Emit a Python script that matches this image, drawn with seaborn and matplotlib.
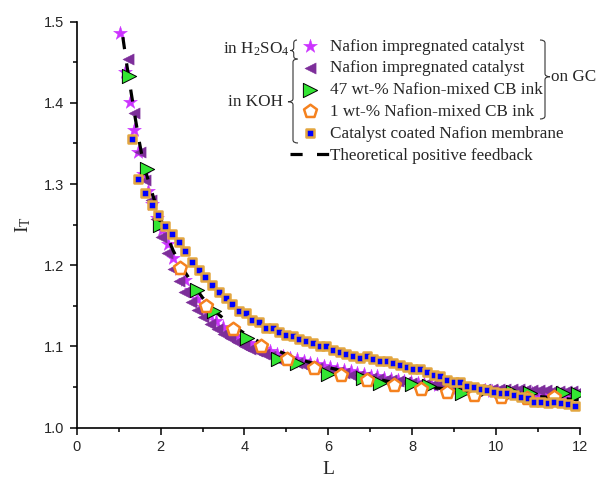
import matplotlib
matplotlib.use("Agg")
import matplotlib.pyplot as plt
import seaborn as sns
from matplotlib.path import Path
from matplotlib.patches import PathPatch

# ---- data ----
L_star = [1.03, 1.15, 1.27, 1.37, 1.47, 1.58, 1.69, 1.80, 1.92, 2.04, 2.17, 2.30,
          2.44, 2.58, 2.72, 2.87, 3.02, 3.17, 3.33, 3.49, 3.65, 3.81, 3.97, 4.13,
          4.29, 4.45, 4.61, 4.77, 4.93, 5.09, 5.25, 5.41, 5.57, 5.73, 5.89, 6.05,
          6.21, 6.37, 6.53, 6.69, 6.85, 7.01, 7.17, 7.33, 7.49, 7.65, 7.81, 7.97,
          8.13, 8.29, 8.45, 8.61, 8.77, 8.93, 9.09, 9.25, 9.41, 9.57, 9.73, 9.89,
          10.05, 10.21, 10.37, 10.53, 10.69, 10.85, 11.01, 11.17, 11.33, 11.49,
          11.65, 11.81]
I_star = [1.486, 1.438, 1.401, 1.367, 1.340, 1.312, 1.292, 1.275, 1.258, 1.243, 1.226, 1.209,
          1.195, 1.182, 1.170, 1.158, 1.148, 1.139, 1.131, 1.124, 1.118, 1.113, 1.108, 1.104,
          1.100, 1.097, 1.094, 1.091, 1.088, 1.086, 1.084, 1.082, 1.080, 1.078, 1.076, 1.074,
          1.072, 1.071, 1.069, 1.067, 1.066, 1.064, 1.063, 1.061, 1.060, 1.059, 1.057, 1.056,
          1.055, 1.054, 1.053, 1.052, 1.051, 1.050, 1.049, 1.048, 1.047, 1.046, 1.046, 1.045,
          1.044, 1.044, 1.043, 1.043, 1.042, 1.042, 1.041, 1.041, 1.040, 1.040,
          1.040, 1.039]

L_purple = [1.22, 1.36, 1.50, 1.63, 1.76, 1.89, 2.02, 2.15, 2.29, 2.43, 2.57, 2.72,
            2.87, 3.02, 3.18, 3.34, 3.50, 3.66, 3.82, 3.98, 4.14, 4.30, 4.46, 4.62,
            4.78, 4.94, 5.10, 5.26, 5.42, 5.58, 5.74, 5.90, 6.06, 6.22, 6.38, 6.54,
            6.70, 6.86, 7.02, 7.18, 7.34, 7.50, 7.66, 7.82, 7.98, 8.14, 8.30, 8.46,
            8.62, 8.78, 8.94, 9.10, 9.26, 9.42, 9.58, 9.74, 9.90, 10.06, 10.22, 10.38,
            10.54, 10.70, 10.86, 11.02, 11.18, 11.34, 11.50, 11.66, 11.82, 11.96]
I_purple = [1.454, 1.387, 1.340, 1.305, 1.280, 1.257, 1.235, 1.215, 1.195, 1.180, 1.167, 1.155,
            1.145, 1.136, 1.128, 1.121, 1.115, 1.110, 1.105, 1.101, 1.097, 1.094, 1.091, 1.088,
            1.085, 1.083, 1.081, 1.079, 1.077, 1.075, 1.073, 1.071, 1.070, 1.068, 1.067, 1.065,
            1.064, 1.062, 1.061, 1.060, 1.059, 1.058, 1.057, 1.056, 1.055, 1.054, 1.053, 1.052,
            1.052, 1.051, 1.050, 1.050, 1.049, 1.049, 1.048, 1.048, 1.048, 1.047, 1.047, 1.047,
            1.047, 1.046, 1.046, 1.046, 1.046, 1.045, 1.045, 1.045, 1.045, 1.044]

L_green = [1.25, 1.67, 1.99, 2.86, 3.28, 4.05, 4.81, 5.25, 6.00, 6.82, 7.23, 7.99,
           8.40, 9.18, 9.60, 10.41, 10.80, 11.60, 11.95]
I_green = [1.433, 1.319, 1.250, 1.169, 1.144, 1.110, 1.085, 1.079, 1.066, 1.061, 1.055, 1.054,
           1.051, 1.043, 1.043, 1.044, 1.043, 1.042, 1.041]

L_pent = [2.46, 3.08, 3.73, 4.39, 5.02, 5.66, 6.29, 6.93, 7.57, 8.20, 8.84, 9.47,
          10.11, 10.74, 11.38]
I_pent = [1.196, 1.150, 1.121, 1.100, 1.084, 1.073, 1.065, 1.058, 1.052, 1.047, 1.044, 1.040,
          1.037, 1.036, 1.038]

L_square = [1.31, 1.47, 1.63, 1.79, 1.95, 2.11, 2.27, 2.43, 2.59, 2.75, 2.91, 3.07,
            3.23, 3.39, 3.55, 3.71, 3.87, 4.03, 4.19, 4.35, 4.51, 4.67, 4.83, 4.99,
            5.15, 5.31, 5.47, 5.63, 5.79, 5.95, 6.11, 6.27, 6.43, 6.59, 6.75, 6.91,
            7.07, 7.23, 7.39, 7.55, 7.71, 7.87, 8.03, 8.19, 8.35, 8.51, 8.67, 8.83,
            8.99, 9.15, 9.31, 9.47, 9.63, 9.79, 9.95, 10.11, 10.27, 10.43, 10.59, 10.75,
            10.91, 11.07, 11.23, 11.39, 11.55, 11.71, 11.87]
I_square = [1.355, 1.306, 1.289, 1.274, 1.262, 1.248, 1.238, 1.228, 1.218, 1.204, 1.194, 1.185,
            1.176, 1.167, 1.159, 1.152, 1.144, 1.141, 1.133, 1.130, 1.123, 1.122, 1.118, 1.114,
            1.113, 1.109, 1.107, 1.104, 1.100, 1.100, 1.096, 1.093, 1.091, 1.088, 1.086, 1.088,
            1.085, 1.082, 1.082, 1.080, 1.077, 1.075, 1.072, 1.072, 1.068, 1.065, 1.063, 1.059,
            1.056, 1.056, 1.051, 1.050, 1.048, 1.046, 1.044, 1.042, 1.042, 1.040, 1.038, 1.036,
            1.032, 1.032, 1.030, 1.032, 1.030, 1.029, 1.026]

L_theory = [1.10, 1.20, 1.30, 1.40, 1.50, 1.60, 1.75, 1.90, 2.10, 2.30, 2.50, 2.75, 3.00,
            3.30, 3.60, 4.00, 4.50, 5.00, 5.50, 6.00, 6.70, 7.40, 8.50, 9.80, 10.60, 11.30, 12.00]
I_theory = [1.481, 1.445, 1.412, 1.380, 1.350, 1.323, 1.297, 1.272, 1.243, 1.218, 1.198, 1.178,
            1.160, 1.143, 1.130, 1.116, 1.101, 1.090, 1.081, 1.074, 1.065, 1.057, 1.049, 1.043,
            1.040, 1.037, 1.034]

labels = ["Nafion impregnated catalyst", "Nafion impregnated catalyst",
          "47 wt-% Nafion-mixed CB ink", "1 wt-% Nafion-mixed CB ink",
          "Catalyst coated Nafion membrane", "Theoretical positive feedback"]

W, H = 605, 486

sns.set_theme(style="ticks")
plt.rcParams["font.family"] = ["Liberation Serif", "DejaVu Serif"]
plt.rcParams["mathtext.fontset"] = "custom"
plt.rcParams["mathtext.rm"] = "Liberation Serif"
plt.rcParams["mathtext.it"] = "Liberation Serif"

fig = plt.figure(figsize=(W / 100, H / 100), dpi=100)
ax = fig.add_axes([76.7 / W, 1 - 427.5 / H, (580 - 76.7) / W, (427.5 - 21.7) / H])

sns.scatterplot(x=L_star, y=I_star, marker="*", s=110, color="#CC33FF",
                edgecolor="#CC33FF", linewidth=0.3, label=labels[0], ax=ax, zorder=2)
sns.scatterplot(x=L_purple, y=I_purple, marker="<", s=65, color="#7D2E9A",
                edgecolor="#7D2E9A", linewidth=0.3, label=labels[1], ax=ax, zorder=2)
sns.lineplot(x=L_theory, y=I_theory, color="black", linewidth=2.3, sort=False,
             estimator=None, label=labels[5], ax=ax, zorder=3)
ax.lines[-1].set_dashes([3.8, 4.5])
sns.scatterplot(x=L_green, y=I_green, marker=">", s=105, color="#33E533",
                edgecolor="black", linewidth=0.7, label=labels[2], ax=ax, zorder=4)
sns.scatterplot(x=L_pent, y=I_pent, marker="p", s=95, color="white",
                edgecolor="#F5821F", linewidth=1.8, label=labels[3], ax=ax, zorder=5)
sns.scatterplot(x=L_square, y=I_square, marker="s", s=32, color="#0000FF",
                edgecolor="#E3A640", linewidth=1.8, label=labels[4], ax=ax, zorder=6)

ax.set_xlim(0, 12)
ax.set_ylim(1.0, 1.5)
ax.set_xticks(range(0, 13, 2))
ax.set_xticks(range(1, 13, 2), minor=True)
ax.set_yticks([1.0, 1.1, 1.2, 1.3, 1.4, 1.5])
ax.set_yticks([1.05, 1.15, 1.25, 1.35, 1.45], minor=True)
ax.set_yticklabels(["1.0", "1.1", "1.2", "1.3", "1.4", "1.5"])
for lab in ax.get_xticklabels() + ax.get_yticklabels():
    lab.set_fontfamily("Liberation Sans")
    lab.set_fontsize(10.5)
ax.tick_params(which="major", direction="out", length=5, width=1.1, color="black", pad=4)
ax.tick_params(which="minor", direction="out", length=3, width=1.1, color="black")
for side in ["left", "bottom"]:
    ax.spines[side].set_linewidth(1.2)
    ax.spines[side].set_color("black")
sns.despine(ax=ax)

ax.set_xlabel("L", fontsize=14, labelpad=5)
ax.set_ylabel(r"$\mathregular{I_T}$", fontsize=14, labelpad=8)

handles, _ = ax.get_legend_handles_labels()
order = [0, 1, 3, 4, 5, 2]
ax.legend([handles[i] for i in order], labels, loc="upper left",
          bbox_to_anchor=(290 / W, 1 - 38.5 / H), bbox_transform=fig.transFigure,
          frameon=False, fontsize=12.3, handlelength=2.3, handletextpad=0.05,
          labelspacing=0.34, borderpad=0, borderaxespad=0)


def brace(x_tip, x_end, y_top, y_bot, y_tip):
    xm = (x_tip + x_end) / 2
    r = 3
    pts = [(x_end, y_top), (xm, y_top), (xm, y_top + r), (xm, y_tip - r),
           (xm, y_tip), (x_tip, y_tip), (xm, y_tip), (xm, y_tip + r),
           (xm, y_bot - r), (xm, y_bot), (x_end, y_bot)]
    codes = [Path.MOVETO, Path.CURVE3, Path.CURVE3, Path.LINETO, Path.CURVE3,
             Path.CURVE3, Path.CURVE3, Path.CURVE3, Path.LINETO, Path.CURVE3, Path.CURVE3]
    verts = [(x / W, 1 - y / H) for x, y in pts]
    fig.add_artist(PathPatch(Path(verts, codes), transform=fig.transFigure,
                             fill=False, lw=0.8, edgecolor="#333333"))


brace(290.5, 297, 40, 59, 50.5)
brace(288, 298, 59, 143, 101.7)
brace(550, 540, 40, 119, 76.7)

fig.text(289.5 / W, 1 - 49 / H, r"in H$\mathregular{_2}$SO$\mathregular{_4}$", ha="right",
         va="center", fontsize=12.3)
fig.text(283 / W, 1 - 101.7 / H, "in KOH", ha="right", va="center", fontsize=12.3)
fig.text(551 / W, 1 - 76.7 / H, "on GC", ha="left", va="center", fontsize=12.3)

fig.savefig("out.png", dpi=100)
